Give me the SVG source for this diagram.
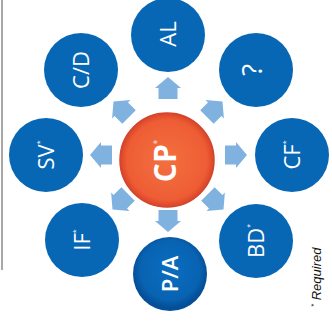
<svg xmlns="http://www.w3.org/2000/svg" width="332" height="322" viewBox="0 0 332 322">
  <style>
    .node { fill: #0767b5; }
    .lbl { font-family: "Open Sans", "Liberation Sans", sans-serif; font-size: 22px; fill: #ffffff; text-anchor: middle; }
    .ast { font-size: 7px; }
    .arrow { fill: #80b2df; }
  </style>
  <defs>
    <path id="arr" d="M0,-12 L13,-1 L9.5,-1 L9.5,10 L-9.5,10 L-9.5,-1 L-13,-1 Z"/>
    <radialGradient id="cpg" cx="50%" cy="50%" r="50%">
      <stop offset="0" stop-color="#f3703f"/>
      <stop offset="0.85" stop-color="#ee5d35"/>
      <stop offset="1" stop-color="#d9452a"/>
    </radialGradient>
    <radialGradient id="pag" cx="50%" cy="45%" r="50%">
      <stop offset="0" stop-color="#0a6dbf"/>
      <stop offset="0.8" stop-color="#0863b2"/>
      <stop offset="1" stop-color="#054f98"/>
    </radialGradient>
  </defs>
  <rect x="0" y="0" width="332" height="322" fill="#ffffff"/>
  <line x1="2" y1="0" x2="2" y2="270" stroke="#a8a8a8" stroke-width="2"/>

  <g id="connectors">
    <use href="#arr" class="arrow" transform="translate(168,89)"/>
    <use href="#arr" class="arrow" transform="translate(214,110) rotate(45)"/>
    <use href="#arr" class="arrow" transform="translate(235,155) rotate(90)"/>
    <use href="#arr" class="arrow" transform="translate(215,201) rotate(135)"/>
    <use href="#arr" class="arrow" transform="translate(168,220) rotate(180)"/>
    <use href="#arr" class="arrow" transform="translate(121,201) rotate(225)"/>
    <use href="#arr" class="arrow" transform="translate(102,155) rotate(270)"/>
    <use href="#arr" class="arrow" transform="translate(122,110) rotate(315)"/>
  </g>

  <g id="CP">
    <circle cx="167" cy="160" r="47" fill="url(#cpg)" stroke="#d4432a" stroke-width="1.5"/>
    <text transform="translate(165,161) rotate(-90)" x="0" y="11" style="font-family:'Open Sans','Liberation Sans',sans-serif;font-size:30px;font-weight:bold;fill:#fff;text-anchor:middle">CP<tspan dy="-16" style="font-size:8px;fill:#f6c9b8">*</tspan></text>
  </g>

  <g id="AL">
    <circle class="node" cx="168" cy="35" r="37"/>
    <text class="lbl" transform="translate(168,34) rotate(-90)" x="0" y="8">AL</text>
  </g>
  <g id="Q">
    <circle class="node" cx="256" cy="70" r="37"/>
    <text class="lbl" transform="translate(252,70) rotate(-90)" x="0" y="10" style="font-size:28px">?</text>
  </g>
  <g id="CD">
    <circle class="node" cx="81" cy="70" r="37"/>
    <text class="lbl" transform="translate(81,70) rotate(-90)" x="0" y="8">C/D</text>
  </g>
  <g id="SV">
    <circle class="node" cx="46" cy="155" r="37"/>
    <text class="lbl" transform="translate(46,155) rotate(-90)" x="0" y="8">SV<tspan class="ast" dy="-12">*</tspan></text>
  </g>
  <g id="CF">
    <circle class="node" cx="292" cy="155" r="37"/>
    <text class="lbl" transform="translate(292,155) rotate(-90)" x="0" y="8">CF<tspan class="ast" dy="-12">*</tspan></text>
  </g>
  <g id="IF">
    <circle class="node" cx="82" cy="240" r="37"/>
    <text class="lbl" transform="translate(82,240) rotate(-90)" x="0" y="8">IF<tspan class="ast" dy="-12">*</tspan></text>
  </g>
  <g id="BD">
    <circle class="node" cx="256" cy="241" r="37"/>
    <text class="lbl" transform="translate(256,241) rotate(-90)" x="0" y="8">BD<tspan class="ast" dy="-12">*</tspan></text>
  </g>
  <g id="PA">
    <circle cx="170" cy="274" r="37" fill="url(#pag)"/>
    <text class="lbl" transform="translate(170,274) rotate(-90)" x="0" y="8" style="font-weight:600">P/A</text>
  </g>

  <text transform="translate(321,307) rotate(-90)" x="0" y="0" style="font-family:'Liberation Sans',Arial,sans-serif;font-size:13px;font-style:italic;fill:#111"><tspan dy="-5" style="font-size:8px">*</tspan><tspan dy="5"> Required</tspan></text>
</svg>
